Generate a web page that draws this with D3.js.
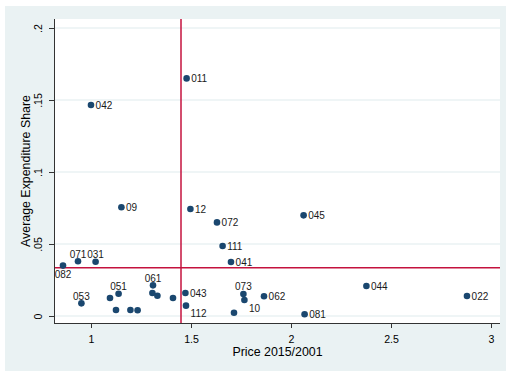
<!DOCTYPE html>
<html>
<head>
<meta charset="utf-8">
<script src="https://cdn.jsdelivr.net/npm/d3@7"></script>
<style>
  html, body { margin: 0; padding: 0; background: #ffffff; }
  svg { display: block; font-family: "Liberation Sans", Arial, sans-serif; }
</style>
</head>
<body>
<svg id="chart" width="506" height="371"></svg>
<script>
// COICOP group codes with price ratio (2015/2001) and average expenditure share
const codes = ["011","042","09","12","072","045","111","041","082","071",
               "031","053","","051","","","","061","","",
               "","043","112","","073","10","062","081","044","022"];
const priceRatio = [1.478,1.000,1.152,1.497,1.630,2.063,1.658,1.700,0.860,0.935,
                    1.023,0.952,1.095,1.138,1.125,1.197,1.233,1.310,1.307,1.332,
                    1.410,1.472,1.475,1.715,1.762,1.767,1.865,2.068,2.377,2.880];
const expShare = [0.1650,0.1465,0.0755,0.0743,0.0650,0.0699,0.0486,0.0375,0.0350,0.0380,
                  0.0377,0.0088,0.0125,0.0155,0.0042,0.0042,0.0040,0.0213,0.0160,0.0141,
                  0.0125,0.0160,0.0072,0.0023,0.0153,0.0111,0.0137,0.0012,0.0208,0.0139];

// marker label clock positions (3 = right, 12 = above, 6 = below, 4 = lower right)
const labelClock = [3,3,3,3,3,3,3,3,6,12,
                    12,12,3,12,3,3,3,12,3,3,
                    3,3,4,3,12,4,3,3,3,3];

// reference lines: mean price ratio and mean expenditure share
const refPrice = 1.45;
const refShare = 0.0335;

const xTicks = [1, 1.5, 2, 2.5, 3];
const xTickLabels = ["1", "1.5", "2", "2.5", "3"];
const yTicks = [0, 0.05, 0.1, 0.15, 0.2];
const yTickLabels = ["0", ".05", ".1", ".15", ".2"];

const xTitle = "Price 2015/2001";
const yTitle = "Average Expenditure Share";

const svg = d3.select("#chart");

// outer graph region
svg.append("rect").attr("x", 5).attr("y", 6).attr("width", 501).attr("height", 365)
   .attr("fill", "#eaf2f3");

// plot region
const plot = { left: 55, right: 500, top: 19, bottom: 323 };
svg.append("rect").attr("x", plot.left).attr("y", plot.top)
   .attr("width", plot.right - plot.left).attr("height", plot.bottom - plot.top)
   .attr("fill", "#ffffff");

const x = d3.scaleLinear().domain([1, 3]).range([91, 491]);
const y = d3.scaleLinear().domain([0, 0.2]).range([316, 28]);

// horizontal grid lines
svg.append("g").selectAll("line").data(yTicks).join("line")
   .attr("x1", plot.left).attr("x2", plot.right)
   .attr("y1", d => y(d)).attr("y2", d => y(d))
   .attr("stroke", "#eaf2f3").attr("stroke-width", 1.4);

// x axis
const xAxis = d3.axisBottom(x).tickValues(xTicks)
  .tickFormat((d, i) => xTickLabels[i]).tickSize(5).tickPadding(7.5).tickSizeOuter(0);
const gx = svg.append("g").attr("transform", `translate(0,${plot.bottom})`).call(xAxis);
gx.select(".domain").remove();
gx.append("line").attr("x1", plot.left).attr("x2", plot.right).attr("y1", 0.5).attr("y2", 0.5)
  .attr("stroke", "#333333").attr("stroke-width", 1);
gx.selectAll(".tick line").attr("stroke", "#333333");
gx.selectAll(".tick text").attr("fill", "#000000").attr("font-size", 10.6)
  .attr("font-family", "Liberation Sans, Arial, sans-serif");

// y axis
const yAxis = d3.axisLeft(y).tickValues(yTicks)
  .tickFormat((d, i) => yTickLabels[i]).tickSize(6).tickSizeOuter(0);
const gy = svg.append("g").attr("transform", `translate(${plot.left},0)`).call(yAxis);
gy.select(".domain").remove();
gy.append("line").attr("x1", -0.5).attr("x2", -0.5).attr("y1", plot.top).attr("y2", plot.bottom + 1)
  .attr("stroke", "#333333").attr("stroke-width", 1);
gy.selectAll(".tick line").attr("stroke", "#333333");
gy.selectAll(".tick text")
  .attr("x", null).attr("dy", "0.35em")
  .attr("transform", "translate(-17,0) rotate(-90)")
  .attr("text-anchor", "middle")
  .attr("fill", "#000000").attr("font-size", 10.6)
  .attr("font-family", "Liberation Sans, Arial, sans-serif");

// axis titles
svg.append("text").attr("x", (plot.left + plot.right) / 2).attr("y", 356)
   .attr("text-anchor", "middle").attr("font-size", 12.4).attr("fill", "#000000")
   .text(xTitle);
svg.append("text")
   .attr("transform", `translate(30,${(plot.top + plot.bottom) / 2}) rotate(-90)`)
   .attr("text-anchor", "middle").attr("font-size", 12.4).attr("fill", "#000000")
   .text(yTitle);

// reference lines
svg.append("line").attr("x1", x(refPrice)).attr("x2", x(refPrice))
   .attr("y1", plot.top).attr("y2", plot.bottom)
   .attr("stroke", "#c4123e").attr("stroke-width", 1.5);
svg.append("line").attr("x1", plot.left).attr("x2", plot.right)
   .attr("y1", y(refShare)).attr("y2", y(refShare))
   .attr("stroke", "#c4123e").attr("stroke-width", 1.5);

const points = codes.map((c, i) => ({ code: c, px: priceRatio[i], sh: expShare[i], pos: labelClock[i] }));

// markers
svg.append("g").selectAll("circle").data(points).join("circle")
   .attr("cx", d => x(d.px)).attr("cy", d => y(d.sh)).attr("r", 3.3)
   .attr("fill", "#1a476f");

// marker labels
svg.append("g").selectAll("text").data(points.filter(d => d.code !== "")).join("text")
   .attr("font-size", 10).attr("fill", "#1a1a1a")
   .attr("x", d => {
     const cx = x(d.px);
     if (d.pos === 12 || d.pos === 6) return cx;
     return cx + 4.6;
   })
   .attr("y", d => {
     const cy = y(d.sh);
     if (d.pos === 12) return cy - 3.6;
     if (d.pos === 6) return cy + 12.6;
     if (d.pos === 4) return cy + 11.5;
     return cy + 4;
   })
   .attr("text-anchor", d => (d.pos === 12 || d.pos === 6) ? "middle" : "start")
   .text(d => d.code);
</script>
</body>
</html>
